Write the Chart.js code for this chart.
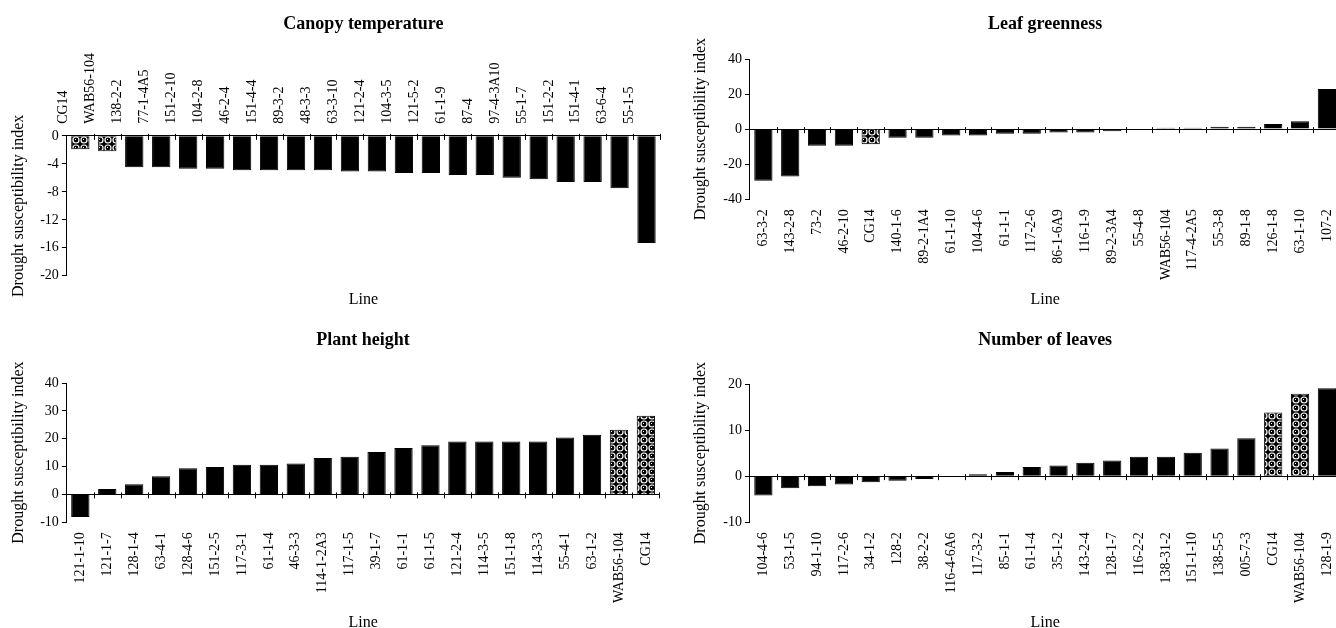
<!DOCTYPE html>
<html>
<head>
<meta charset="utf-8">
<script src="https://cdn.jsdelivr.net/npm/chart.js@4.4.1/dist/chart.umd.min.js"></script>
<style>
  html, body { margin: 0; padding: 0; width: 1336px; height: 628px; overflow: hidden; background: #fff; }
  canvas { position: absolute; }
</style>
</head>
<body>
<canvas id="ct" width="668" height="310" style="left:0;top:0"></canvas>
<canvas id="lg" width="686" height="310" style="left:668px;top:0"></canvas>
<canvas id="ph" width="673" height="340" style="left:0;top:300px"></canvas>
<canvas id="nl" width="686" height="340" style="left:668px;top:300px"></canvas>
<script>
// checks (hatched bars)
const checkLines = ["CG14", "WAB56-104"];

// Canopy temperature
const ctLabels = ["CG14", "WAB56-104", "138-2-2", "77-1-4A5", "151-2-10", "104-2-8", "46-2-4", "151-4-4",
  "89-3-2", "48-3-3", "63-3-10", "121-2-4", "104-3-5", "121-5-2", "61-1-9", "87-4", "97-4-3A10",
  "55-1-7", "151-2-2", "151-4-1", "63-6-4", "55-1-5"];
const ctValues = [-1.9, -2.2, -4.5, -4.5, -4.7, -4.7, -4.9, -4.9, -4.9, -4.9, -5.1, -5.1, -5.3, -5.3,
  -5.6, -5.6, -6.0, -6.2, -6.6, -6.6, -7.5, -15.3];
const ctTicks = [-20, -16, -12, -8, -4, 0];

// Leaf greenness
const lgLabels = ["63-3-2", "143-2-8", "73-2", "46-2-10", "CG14", "140-1-6", "89-2-1A4", "61-1-10",
  "104-4-6", "61-1-1", "117-2-6", "86-1-6A9", "116-1-9", "89-2-3A4", "55-4-8", "WAB56-104",
  "117-4-2A5", "55-3-8", "89-1-8", "126-1-8", "63-1-10", "107-2"];
const lgValues = [-29.5, -27.0, -9.5, -9.5, -8.7, -4.9, -4.9, -3.7, -3.7, -2.7, -2.7, -1.9, -1.9, -1.2,
  0, 0.8, 0.8, 1.4, 1.4, 2.9, 4.5, 22.9];
const lgTicks = [-40, -20, 0, 20, 40];

// Plant height
const phLabels = ["121-1-10", "121-1-7", "128-1-4", "63-4-1", "128-4-6", "151-2-5", "117-3-1", "61-1-4",
  "46-3-3", "114-1-2A3", "117-1-5", "39-1-7", "61-1-1", "61-1-5", "121-2-4", "114-3-5", "151-1-8",
  "114-3-3", "55-4-1", "63-1-2", "WAB56-104", "CG14"];
const phValues = [-8.1, 1.9, 3.6, 6.5, 9.4, 9.8, 10.6, 10.6, 11.1, 13.1, 13.5, 15.2, 16.7, 17.6,
  19.0, 19.0, 19.0, 19.0, 20.4, 21.4, 23.2, 28.2];
const phTicks = [-10, 0, 10, 20, 30, 40];

// Number of leaves
const nlLabels = ["104-4-6", "53-1-5", "94-1-10", "117-2-6", "34-1-2", "128-2", "38-2-2", "116-4-6A6",
  "117-3-2", "85-1-1", "61-1-4", "35-1-2", "143-2-4", "128-1-7", "116-2-2", "138-31-2", "151-1-10",
  "138-5-5", "005-7-3", "CG14", "WAB56-104", "128-1-9"];
const nlValues = [-4.2, -2.6, -2.2, -1.8, -1.3, -1.0, -0.6, 0, 0.4, 0.9, 2.0, 2.3, 2.9, 3.4, 4.2, 4.2,
  5.1, 6.0, 8.2, 13.8, 17.9, 19.1];
const nlTicks = [-10, 0, 10, 20];

Chart.defaults.font.family = "'Liberation Serif', 'Times New Roman', serif";
Chart.defaults.color = "#000";
Chart.defaults.animation = false;

function ballPattern() {
    const c = document.createElement("canvas");
    c.width = 8;
    c.height = 8;
    const g = c.getContext("2d");
    g.fillStyle = "#000";
    g.fillRect(0, 0, 8, 8);
    g.fillStyle = "#fff";
    g.beginPath();
    g.arc(4, 4, 3.6, 0, Math.PI * 2);
    g.fill();
    g.fillStyle = "#000";
    g.beginPath();
    g.arc(4, 4, 2.4, 0, Math.PI * 2);
    g.fill();
    g.fillStyle = "#fff";
    g.fillRect(3, 3, 1, 1);
    return g.createPattern(c, "repeat");
}
const pattern = ballPattern();

// small cross ticks between categories on the zero line
const zeroTicks = {
    id: "zeroTicks",
    afterDatasetsDraw(chart) {
        const x = chart.scales.x;
        const y0 = chart.scales.y.getPixelForValue(0);
        const n = x.ticks.length;
        const step = (x.right - x.left) / n;
        const ctx = chart.ctx;
        ctx.save();
        ctx.strokeStyle = "#000";
        ctx.lineWidth = 1;
        ctx.beginPath();
        for (let i = 1; i <= n; i++) {
            const px = Math.round(x.left + i * step) + 0.5;
            ctx.moveTo(px, y0 - 2);
            ctx.lineTo(px, y0 + 4);
        }
        ctx.stroke();
        ctx.restore();
    },
};

function buildBarChart(id, title, labels, values, yTicks, lay) {
    const xTop = !!lay.xTop;
    const scales = {
        x: {
            position: xTop ? "top" : "bottom",
            offset: true,
            grid: { display: false, drawTicks: false },
            border: { display: false },
            ticks: { autoSkip: false, minRotation: 90, maxRotation: 90, padding: lay.tickPad, font: { size: 14 } },
            title: xTop
                ? { display: false }
                : { display: true, text: "Line", font: { size: 16 }, padding: { top: lay.linePad, bottom: 0 } },
        },
        y: {
            min: yTicks[0],
            max: yTicks[yTicks.length - 1],
            afterBuildTicks: (scale) => { scale.ticks = yTicks.map((v) => ({ value: v })); },
            grid: {
                color: (c) => (c.tick && c.tick.value === 0 ? "#000" : "rgba(0,0,0,0)"),
                tickColor: "#000",
                tickLength: 5,
            },
            border: { display: true, color: "#000" },
            ticks: { padding: 3, font: { size: 14 } },
            title: {
                display: true,
                text: "Drought susceptibility index",
                font: { size: 16 },
                padding: lay.yTitlePad,
            },
        },
    };
    if (xTop) {
        scales.x2 = {
            type: "category",
            position: "bottom",
            labels: labels,
            grid: { display: false, drawTicks: false },
            border: { display: false },
            ticks: { display: false },
            title: { display: true, text: "Line", font: { size: 16 }, padding: { top: lay.linePad, bottom: 0 } },
        };
    }

    return new Chart(document.getElementById(id), {
        type: "bar",
        data: {
            labels: labels,
            datasets: [{
                data: values,
                backgroundColor: labels.map((l) => (checkLines.includes(l) ? pattern : "#000")),
                borderColor: "#000",
                borderWidth: 1,
                barPercentage: 0.68,
                categoryPercentage: 1,
            }],
        },
        plugins: [zeroTicks],
        options: {
            responsive: false,
            layout: { padding: lay.padding },
            scales: scales,
            plugins: {
                legend: { display: false },
                tooltip: { enabled: false },
                title: {
                    display: true,
                    text: title,
                    fullSize: false,
                    font: { size: 18, weight: "bold" },
                    padding: lay.titlePad,
                },
            },
        },
    });
}

buildBarChart("ct", "Canopy temperature", ctLabels, ctValues, ctTicks, {
    xTop: true,
    tickPad: 12,
    linePad: 14,
    titlePad: { top: 14, bottom: 5.5 },
    yTitlePad: { top: 9, bottom: 9 },
    padding: { left: 0, right: 8, top: 0, bottom: 1 },
});
buildBarChart("lg", "Leaf greenness", lgLabels, lgValues, lgTicks, {
    tickPad: 10,
    linePad: 0,
    titlePad: { top: 14, bottom: 23.4 },
    yTitlePad: { top: 23.4, bottom: 9.7 },
    padding: { left: 0, right: 1, top: 0, bottom: 0.8 },
});
buildBarChart("ph", "Plant height", phLabels, phValues, phTicks, {
    tickPad: 10,
    linePad: 0,
    titlePad: { top: 30, bottom: 31.4 },
    yTitlePad: { top: 9, bottom: 9 },
    padding: { left: 0, right: 0, top: 0, bottom: 7.8 },
});
buildBarChart("nl", "Number of leaves", nlLabels, nlValues, nlTicks, {
    tickPad: 10,
    linePad: 0,
    titlePad: { top: 30, bottom: 32.4 },
    yTitlePad: { top: 23.4, bottom: 9.7 },
    padding: { left: 0, right: 1, top: 0, bottom: 7.8 },
});
</script>
</body>
</html>
